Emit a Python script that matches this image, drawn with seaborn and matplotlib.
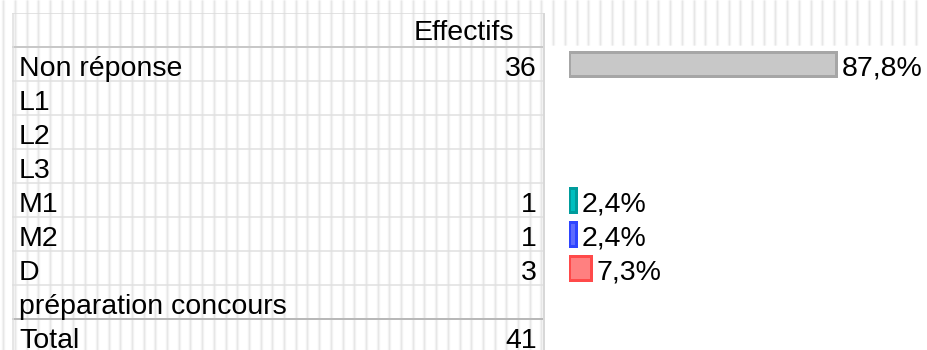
import numpy as np
import pandas as pd
import matplotlib
matplotlib.use("Agg")
import matplotlib.pyplot as plt
import seaborn as sns

# ---- data -------------------------------------------------------------
categories = ["Non réponse", "L1", "L2", "L3", "M1", "M2", "D", "préparation concours"]
counts = [36, None, None, None, 1, 1, 3, None]
header = "Effectifs"
total_label = "Total"
total = 41

fill_colors = ["#c8c8c8", "#00bfbf", "#5c6cff", "#ff8080"]
edge_colors = ["#a6a6a6", "#009c9c", "#2d45ff", "#ff4a4a"]

# ---- figure geometry (pixels) ----------------------------------------
W, H, DPI = 927, 350, 100
ROW = 34.0          # row height
TOP = 13.0          # top of header row
NROWS = 10          # header + 8 categories + total
table_left, table_right = 12.0, 545.0
bar_left = 568.5
px_per_pct = 3.05
PT = 72 / DPI       # points per pixel

sns.set_theme(style="white")
plt.rcParams["font.family"] = ["Liberation Sans", "DejaVu Sans"]
FS = 20.5

fig = plt.figure(figsize=(W / DPI, H / DPI), dpi=DPI)

# striped background: soft vertical bands over the table and the top strip
bg = fig.add_axes([0, 0, 1, 1], zorder=-2)
bg.set_xlim(0, W)
bg.set_ylim(H, 0)
bg.axis("off")
xs = np.arange(3.3, W, 11.7)
ymax = np.where(xs <= table_right, H, 45.0)
bg.vlines(xs, 0, ymax, colors="#f3f3f3", linewidth=3.4 * PT)
bg.vlines(xs, 0, ymax, colors="#e7e7e7", linewidth=1.1 * PT)

y0 = TOP + ROW * NROWS
ax_bottom = (H - y0) / H
ax_height = ROW * NROWS / H

# ---- table -----------------------------------------------------------
tab = fig.add_axes([table_left / W, ax_bottom, (table_right - table_left) / W, ax_height], zorder=1)
tab.set_xlim(table_left, table_right)
tab.set_ylim(8.5, -1.5)
tab.axis("off")
tab.patch.set_alpha(0)

tab.hlines([-1.5], table_left, table_right, colors="#dadada", linewidth=1.5 * PT)
tab.hlines([-0.5], table_left, table_right, colors="#c8c8c8", linewidth=2 * PT)
tab.hlines(np.arange(0.5, 7.0, 1.0), table_left, table_right, colors="#e0e0e0", linewidth=1.5 * PT)
tab.hlines([7.5], table_left, table_right, colors="#b8b8b8", linewidth=2 * PT)
tab.vlines([table_left + 0.5], -1.5, 8.5, colors="#dedede", linewidth=1.5 * PT)
tab.vlines([table_right - 1], -1.5, 8.5, colors="#d8d8d8", linewidth=2 * PT)

text_x, num_x, head_x = 19.0, 536.5, 514.0
base = 0.35
tab.text(head_x, -1 + 0.3, header, ha="right", va="baseline", fontsize=FS, color="black")
for i, (cat, n) in enumerate(zip(categories, counts)):
    tab.text(text_x, i + base, cat, ha="left", va="baseline", fontsize=FS, color="black")
    if n is not None:
        tab.text(num_x, i + base, str(n), ha="right", va="baseline", fontsize=FS, color="black")
tab.text(text_x, 8 + base, total_label, ha="left", va="baseline", fontsize=FS, color="black")
tab.text(num_x, 8 + base, str(total), ha="right", va="baseline", fontsize=FS, color="black")

# ---- bars ------------------------------------------------------------
present = [(c, n) for c, n in zip(categories, counts) if n is not None]
df = pd.DataFrame({
    "cat": [c for c, _ in present],
    "pct": [round(n / total * 100, 1) for _, n in present],
})

ax = fig.add_axes([bar_left / W, ax_bottom, (W - bar_left) / W, ax_height], zorder=1)
ax.patch.set_alpha(0)
sns.barplot(data=df, x="pct", y="cat", hue="cat", order=categories, hue_order=list(df["cat"]),
            palette=fill_colors, orient="h", width=0.68, legend=False, ax=ax,
            linewidth=3 * PT, saturation=1)
bars = [p for p in ax.patches if np.isfinite(p.get_width()) and p.get_width() > 0]
bars.sort(key=lambda p: p.get_y())
for p, ec in zip(bars, edge_colors):
    p.set_edgecolor(ec)

ax.set_xlim(0, (W - bar_left) / px_per_pct)
ax.set_ylim(8.5, -1.5)
ax.axis("off")

for _, r in df.iterrows():
    yi = categories.index(r["cat"])
    lab = f"{r['pct']:.1f}".replace(".", ",") + "%"
    ax.annotate(lab, xy=(r["pct"], yi + base), xytext=(4.2, 0), textcoords="offset points",
                ha="left", va="baseline", fontsize=FS, color="black", annotation_clip=False)

fig.savefig("out.png", dpi=DPI, facecolor="white")
